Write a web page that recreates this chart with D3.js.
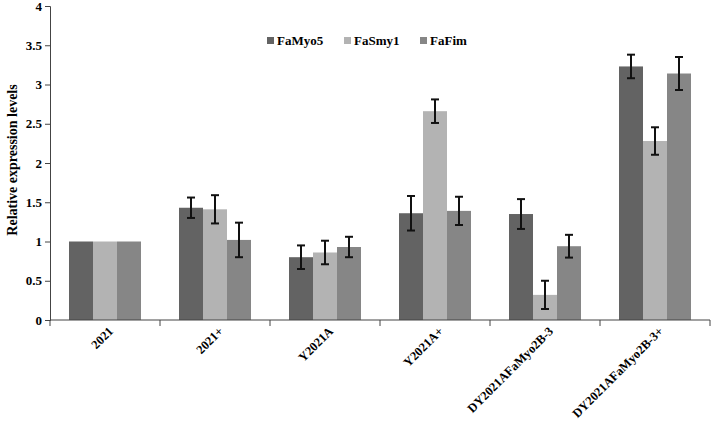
<!DOCTYPE html>
<html>
<head>
<meta charset="utf-8">
<script src="https://cdn.jsdelivr.net/npm/d3@7"></script>
<style>
  body { margin: 0; background: #fff; }
  text { font-family: "Liberation Serif", "Times New Roman", serif; font-weight: bold; }
</style>
</head>
<body>
<svg></svg>
<script>
const categories = ["2021", "2021+", "Y2021A", "Y2021A+", "DY2021AFaMyo2B-3", "DY2021AFaMyo2B-3+"];
const series = ["FaMyo5", "FaSmy1", "FaFim"];
const colors = ["#636363", "#b3b3b3", "#868686"];

// means and error (±) per series, in category order
const faMyo5 = [1, 1.43, 0.80, 1.36, 1.35, 3.23];
const faMyo5Err = [0, 0.13, 0.15, 0.22, 0.19, 0.15];
const faSmy1 = [1, 1.41, 0.86, 2.66, 0.32, 2.28];
const faSmy1Err = [0, 0.18, 0.15, 0.15, 0.18, 0.175];
const faFim = [1, 1.02, 0.93, 1.39, 0.94, 3.14];
const faFimErr = [0, 0.22, 0.13, 0.18, 0.145, 0.21];

const yTicks = [0, 0.5, 1, 1.5, 2, 2.5, 3, 3.5, 4];

const values = [faMyo5, faSmy1, faFim];
const errors = [faMyo5Err, faSmy1Err, faFimErr];

const rows = [];
categories.forEach((c, i) => {
  series.forEach((s, j) => {
    rows.push({ cat: c, series: s, value: values[j][i], err: errors[j][i], color: colors[j] });
  });
});

const W = 714, H = 426;
const mLeft = 50, mRight = 710, mTop = 6, mBottom = 320;

const svg = d3.select('svg')
  .attr('width', W)
  .attr('height', H);

const yScale = d3.scaleLinear()
  .domain([0, 4])
  .range([mBottom, mTop]);

const xScale = d3.scaleBand()
  .domain(categories)
  .range([mLeft, mRight])
  .padding(0);

const inner = d3.scaleBand()
  .domain(series)
  .range([19, 91])
  .padding(0);

// bars
svg.append('g')
  .selectAll('rect')
  .data(rows)
  .enter()
  .append('rect')
  .attr('x', d => xScale(d.cat) + inner(d.series))
  .attr('y', d => yScale(d.value))
  .attr('width', inner.bandwidth())
  .attr('height', d => yScale(0) - yScale(d.value))
  .attr('fill', d => d.color);

// error bars
const eb = svg.append('g')
  .selectAll('g')
  .data(rows.filter(d => d.err > 0))
  .enter()
  .append('g')
  .attr('stroke', '#111')
  .attr('stroke-width', 2);
const cx = d => xScale(d.cat) + inner(d.series) + inner.bandwidth() / 2;
eb.append('line')
  .attr('x1', cx).attr('x2', cx)
  .attr('y1', d => yScale(d.value + d.err))
  .attr('y2', d => yScale(d.value - d.err));
eb.append('line')
  .attr('x1', d => cx(d) - 4).attr('x2', d => cx(d) + 4)
  .attr('y1', d => yScale(d.value + d.err))
  .attr('y2', d => yScale(d.value + d.err));
eb.append('line')
  .attr('x1', d => cx(d) - 4).attr('x2', d => cx(d) + 4)
  .attr('y1', d => yScale(d.value - d.err))
  .attr('y2', d => yScale(d.value - d.err));

// y axis
const yAxis = svg.append('g')
  .attr('transform', `translate(${mLeft},0)`)
  .call(d3.axisLeft(yScale).tickValues(yTicks).tickSize(5).tickPadding(3).tickFormat(d3.format('')));
yAxis.select('.domain').attr('stroke', '#444');
yAxis.selectAll('.tick line').attr('stroke', '#444');
yAxis.selectAll('text')
  .attr('font-size', 13)
  .attr('fill', '#000')
  .style('font-family', '"Liberation Serif", serif')
  .style('font-weight', 'bold');

// x axis: ticks at band edges
const xAxis = svg.append('g');
xAxis.append('line')
  .attr('x1', mLeft).attr('x2', mRight)
  .attr('y1', mBottom).attr('y2', mBottom)
  .attr('stroke', '#444');
const edges = categories.map(c => xScale(c)).concat([xScale.range()[1]]);
xAxis.selectAll('line.tk')
  .data(edges)
  .enter()
  .append('line')
  .attr('class', 'tk')
  .attr('x1', d => d).attr('x2', d => d)
  .attr('y1', mBottom).attr('y2', mBottom + 6)
  .attr('stroke', '#444');
xAxis.selectAll('text')
  .data(categories)
  .enter()
  .append('text')
  .attr('transform', d => `translate(${xScale(d) + xScale.bandwidth() / 2 + 9},${mBottom + 12}) rotate(-45)`)
  .attr('text-anchor', 'end')
  .attr('font-size', 12.5)
  .text(d => d);

// y label
svg.append('text')
  .attr('transform', `translate(17,160) rotate(-90)`)
  .attr('text-anchor', 'middle')
  .attr('font-size', 14)
  .text('Relative expression levels');

// legend
const legendX = [267, 344, 420];
const legend = svg.append('g')
  .selectAll('g')
  .data(series)
  .enter()
  .append('g')
  .attr('transform', (d, i) => `translate(${legendX[i]},37)`);
legend.append('rect')
  .attr('width', 7).attr('height', 7)
  .attr('fill', (d, i) => colors[i]);
legend.append('text')
  .attr('x', 10).attr('y', 8)
  .attr('font-size', 13)
  .text(d => d);
</script>
</body>
</html>
